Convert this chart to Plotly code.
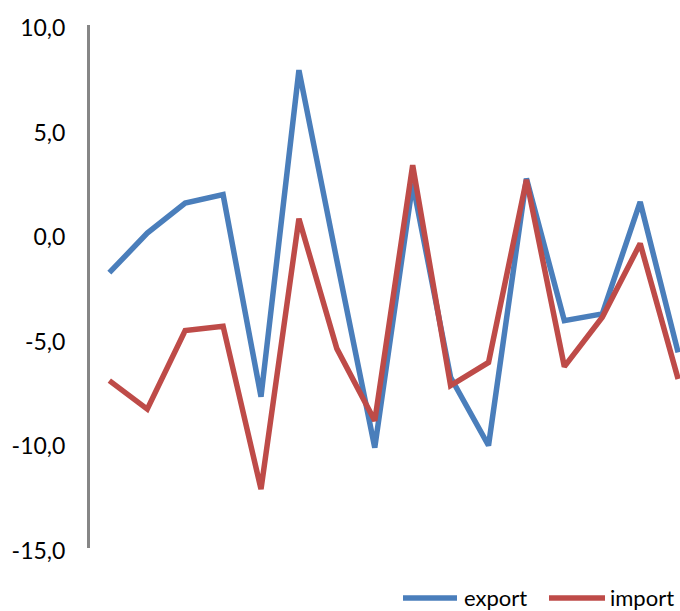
import plotly.graph_objects as go

periods = list(range(16))
export = [-1.84, 0.05, 1.49, 1.89, -7.77, 7.84, -1.25, -10.2, 2.42, -6.84,
          -10.1, 2.66, -4.13, -3.81, 1.54, -5.65]
imports = [-7.0, -8.36, -4.61, -4.40, -12.19, 0.74, -5.47, -8.92, 3.30, -7.24,
           -6.13, 2.6, -6.33, -3.97, -0.45, -6.92]
y_ticks = [-15, -10, -5, 0, 5, 10]
y_labels = ["-15,0", "-10,0", "-5,0", "0,0", "5,0", "10,0"]
series_names = ["export", "import"]
series_colors = ["#4A7EBB", "#BE4B48"]

FONT = "Lato"
W, H = 680, 611
L, T, B = 90, 25, 63     # plot area: x 90..680, y 25..548
plot_w = W - L
plot_h = H - T - B


def px_x(x):
    return (x - L) / plot_w


def px_y(y):
    return (H - B - y) / plot_h


fig = go.Figure()
for name, vals, col in zip(series_names, [export, imports], series_colors):
    fig.add_trace(go.Scatter(x=periods, y=vals, mode="lines", name=name,
                             line=dict(color=col, width=5.5)))

# manual legend (longer line samples like the original)
legend_items = [(403, 457, 462), (549, 605, 608)]
for (x0, x1, xt), name, col in zip(legend_items, series_names, series_colors):
    fig.add_shape(type="line", xref="paper", yref="paper",
                  x0=px_x(x0), x1=px_x(x1), y0=px_y(598), y1=px_y(598),
                  line=dict(color=col, width=5.5))
    fig.add_annotation(xref="paper", yref="paper", x=px_x(xt), y=px_y(597),
                       text=name, showarrow=False, xanchor="left", yanchor="middle",
                       font=dict(family=FONT, size=22, color="black"))

fig.update_layout(
    width=W, height=H,
    margin=dict(l=L, r=0, t=T, b=B, pad=0),
    paper_bgcolor="white", plot_bgcolor="white",
    font=dict(family=FONT, size=23, color="black"),
    showlegend=False,
    xaxis=dict(range=[-0.51, 15.05], showgrid=False, zeroline=False,
               showticklabels=False, showline=False, ticks=""),
    yaxis=dict(range=[-15, 10], tickvals=y_ticks, ticktext=y_labels,
               showgrid=False, zeroline=False, showline=True,
               linecolor="#868686", linewidth=3, ticks="",
               ticklabelstandoff=17, ticklabelshift=3,
               tickfont=dict(family=FONT, size=23)),
)

fig.write_html(
    "out.html",
    config={"displayModeBar": False},
    post_script="document.body.style.margin='0';document.body.style.overflow='hidden';",
)
